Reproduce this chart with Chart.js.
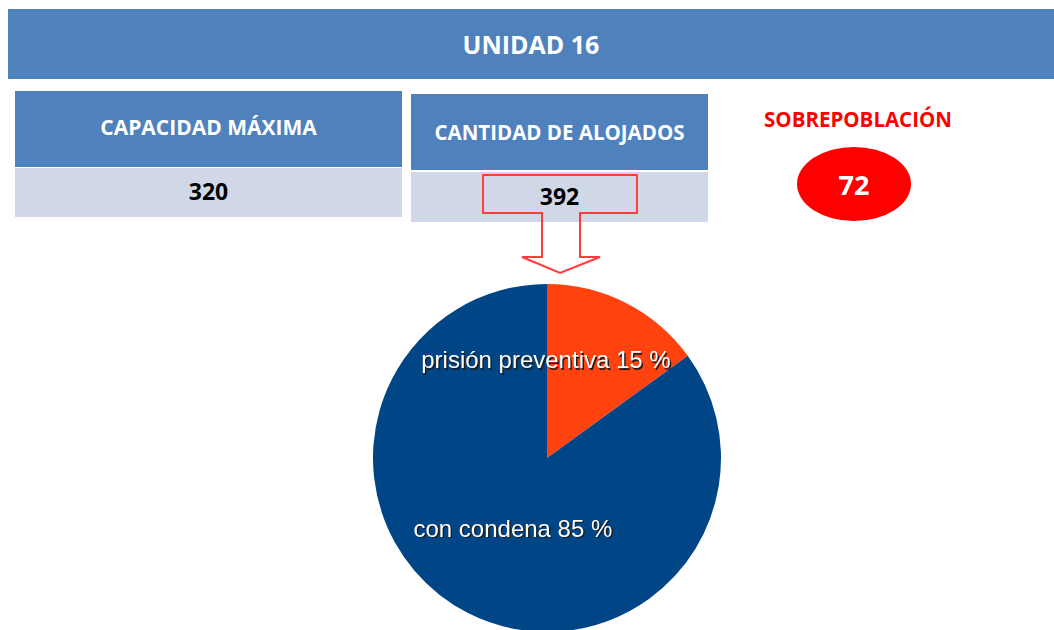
<!DOCTYPE html>
<html>
<head>
<meta charset="utf-8">
<script src="https://cdn.jsdelivr.net/npm/chart.js@4.4.0/dist/chart.umd.min.js"></script>
<style>
body{margin:0;width:1054px;height:630px;overflow:hidden;background:#fff;font-family:"Open Sans",sans-serif;position:relative}
.cell{position:absolute;display:flex;align-items:center;justify-content:center;font-weight:bold;box-sizing:border-box}
.blue{background:#4f81bd;color:#fff}
.light{background:#d0d8e8;color:#000}
#pieBox{position:absolute;left:373px;top:284px;width:348px;height:348px}
</style>
</head>
<body>
<div class="cell blue" style="left:8px;top:9px;width:1046px;height:70px;font-size:25px">UNIDAD 16</div>

<div class="cell blue" style="left:15px;top:91px;width:387px;height:76px;font-size:21px;padding-bottom:4px">CAPACIDAD MÁXIMA</div>
<div class="cell light" style="left:15px;top:168px;width:387px;height:49px;font-size:23px;padding-bottom:3px">320</div>

<div class="cell blue" style="left:411px;top:94px;width:297px;height:76px;font-size:20.5px">CANTIDAD DE ALOJADOS</div>
<div class="cell light" style="left:411px;top:172px;width:297px;height:50px;font-size:23px;padding-bottom:2px">392</div>

<div class="cell" style="left:740px;top:104px;width:236px;height:30px;font-size:20.5px;color:#ff0000">SOBREPOBLACIÓN</div>
<svg style="position:absolute;left:0;top:0" width="1054" height="630">
  <ellipse cx="854" cy="184" rx="57" ry="37" fill="#ff0000"/>
  <path d="M483,175 L637,175 L637,213 L580,213 L580,257 L600,257 L560,273 L522,257 L542,257 L542,213 L483,213 Z" fill="none" stroke="#ff3b3b" stroke-width="2"/>
</svg>
<div class="cell" style="left:797px;top:147px;width:114px;height:74px;font-size:27px;color:#fff">72</div>

<div id="pieBox"><canvas id="pie" width="348" height="348"></canvas></div>

<script>
let sliceLabels = ["prisión preventiva", "con condena"];
let sliceValues = [15, 85];
let sliceColors = ["#ff420e", "#004586"];

// where LibreOffice put each label, as a share of the radius from the centre
let labelSpots = [[-0.006, -0.553], [-0.196, 0.415]];

const pieLabels = {
  id: "pieLabels",
  afterDatasetsDraw(chart) {
    const ctx = chart.ctx;
    const arcs = chart.getDatasetMeta(0).data;
    ctx.save();
    ctx.font = "24px 'Liberation Sans', Arial, sans-serif";
    ctx.textAlign = "center";
    ctx.textBaseline = "middle";
    arcs.forEach((arc, i) => {
      let r = arc.outerRadius;
      let x = arc.x + labelSpots[i][0] * r;
      let y = arc.y + labelSpots[i][1] * r;
      let text = sliceLabels[i] + " " + sliceValues[i] + " %";
      ctx.fillStyle = "#1e1e1e";
      ctx.fillText(text, x + 1.5, y + 1.5);
      ctx.fillStyle = "#ffffff";
      ctx.fillText(text, x, y);
    });
    ctx.restore();
  }
};

new Chart(document.getElementById("pie"), {
  type: "pie",
  data: {
    labels: sliceLabels,
    datasets: [{
      data: sliceValues,
      backgroundColor: sliceColors,
      borderWidth: 0
    }]
  },
  options: {
    responsive: false,
    animation: false,
    layout: { padding: 0 },
    plugins: {
      legend: { display: false },
      tooltip: { enabled: false }
    }
  },
  plugins: [pieLabels]
});
</script>
</body>
</html>
